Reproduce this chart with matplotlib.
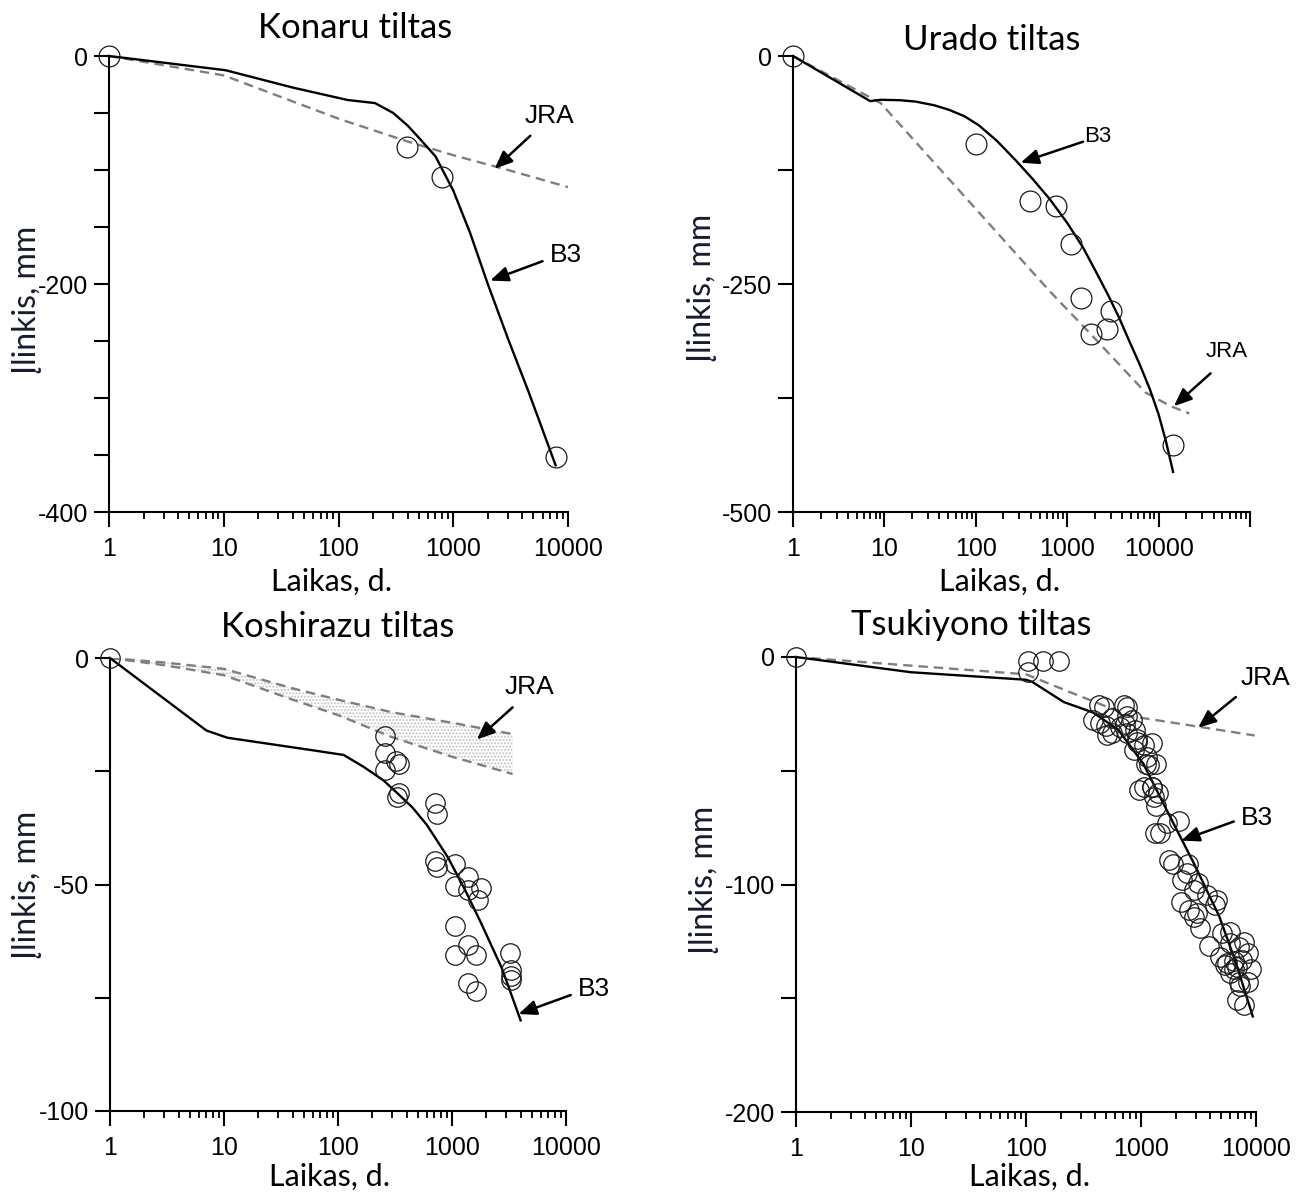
import matplotlib.pyplot as plt

W, H = 1297, 1193
TICK_FONT = ['Liberation Sans', 'DejaVu Sans']
LABEL_FONT = ['Lato', 'DejaVu Sans']

# Konaru tiltas
kon_b3_t = [1, 10.4, 40, 120, 208, 300, 400, 505, 700, 1000, 1400, 2000, 3000, 4550, 7800]
kon_b3_d = [0, -12.5, -27.7, -38.6, -41.3, -50, -61, -72, -88, -118, -155, -200, -248, -295, -359]
kon_jra_t = [1, 10, 100, 400, 1000, 3000, 10000]
kon_jra_d = [0, -17, -55, -75, -87, -100, -115]
kon_obs_t = [1, 392, 800, 7800]
kon_obs_d = [0, -80, -106, -352]

# Urado tiltas
urd_b3_t = [1, 7, 9.1, 15, 22, 35, 51, 75, 108, 170, 277, 420, 645, 1000, 1490, 2100,
            2800, 3700, 4750, 6200, 8000, 10000, 12000, 14400]
urd_b3_d = [0, -49.5, -48, -48.5, -50, -54, -59, -66, -76, -93, -115, -135, -157, -183,
            -210, -238, -262, -287, -312, -338, -365, -393, -422, -456]
urd_jra_t = [1, 9.1, 645, 1660, 7200, 13600, 21700]
urd_jra_d = [0, -51.6, -258, -301, -369, -384, -392]
urd_obs_t = [1, 100, 390, 755, 1110, 1410, 3040, 1810, 2700, 14400]
urd_obs_d = [0, -97, -159, -164, -206, -265, -280, -305, -299, -427]

# Koshirazu tiltas
kos_b3_t = [1, 7, 10.7, 24, 61, 112, 167, 250, 330, 450, 600, 920, 1290, 1790, 2740, 4000]
kos_b3_d = [0, -16, -17.6, -18.9, -20.4, -21.4, -24, -27, -29.8, -33, -36.8, -44, -51,
            -58.4, -68.5, -80]
kos_jra_t = [1, 3, 10, 40, 100, 300, 1000, 3400]
kos_jra_hi = [0, -1, -2.4, -6.7, -9.2, -12, -14.3, -16.8]
kos_jra_lo = [0, -1.6, -3.8, -9.2, -12.6, -17.5, -21.8, -25.6]
kos_obs_t = [1, 260, 258, 325, 340, 258, 340, 330, 705, 735, 705, 745, 1070, 1070,
             1380, 1380, 1790, 1700, 1070, 1070, 1380, 1620, 1380, 1620, 3240, 3300,
             3300, 3300]
kos_obs_d = [0, -17.2, -21, -22.7, -23.3, -24.8, -29.8, -30.7, -31.9, -34.5, -44.8,
             -46.2, -45.4, -50.4, -48.3, -51.3, -50.8, -53.4, -59.2, -65.5, -63.4,
             -65.5, -71.8, -73.5, -65.1, -68.9, -70.2, -71]

# Tsukiyono tiltas
tsu_b3_t = [1, 10, 100, 113, 213, 383, 635, 1050, 1740, 2890, 4790, 6650, 9380]
tsu_b3_d = [0, -6.7, -10, -10.9, -19.8, -24.4, -32, -47, -69, -90.8, -114, -134, -158]
tsu_jra_t = [1, 100, 232, 815, 2870, 9750]
tsu_jra_d = [0, -7.6, -15.1, -26, -30.3, -34.5]
tsu_obs_t = [1, 104, 140, 192, 104,
             384, 473, 493, 560, 751, 751, 721, 889, 927, 1052, 1244, 1352, 1096,
             1244, 1052, 1413, 1352, 1472, 2150, 1893, 2540, 2240, 3135, 2880, 4580,
             4390, 2880, 3270, 3870, 5890, 7900, 8600, 6410, 5420, 6410, 8970, 8600,
             7260, 7900,
             428, 706, 443, 560, 506, 661, 755, 835, 922, 863, 1125, 1163, 955, 1250,
             1290, 1680, 1333, 1740, 2510, 2275, 3750, 2595, 3070, 5070, 5990, 7080,
             4900, 5610, 6850, 7570, 5990, 7080, 6850]
tsu_obs_d = [0, -1.7, -1.7, -1.7, -6.7,
             -27.7, -21.8, -30.3, -33.6, -21.8, -26, -29.4, -31.9, -36.1, -38.7, -37.8,
             -47.1, -47.1, -57.1, -57.1, -59.7, -65.5, -77.3, -72.3, -90.8, -90.8,
             -107.6, -99.2, -102.5, -106.7, -109.2, -114.3, -119.3, -126.9, -121,
             -125.2, -130.3, -133.6, -135.3, -137, -137, -142.9, -144.5, -152.9,
             -21.1, -21.1, -29.1, -27, -34.3, -30.6, -33.5, -27.7, -37.2, -40.9, -43.8,
             -47.5, -58.5, -57, -61.4, -73.1, -77.5, -89.2, -95.1, -98, -104.6, -111.2,
             -112.7, -121.5, -125.8, -127.3, -131.7, -134.6, -136.1, -133.2, -139,
             -142.7, -150.8]


def px_rect(left, top, right, bottom):
    return [left / W, 1 - bottom / H, (right - left) / W, (bottom - top) / H]


def style_axes(ax, xmax, yticks, ylabels):
    ax.set_xscale('log')
    ax.set_xlim(1, xmax)
    ax.set_ylim(yticks[-1], 0)
    for s in ('top', 'right'):
        ax.spines[s].set_visible(False)
    for s in ('left', 'bottom'):
        ax.spines[s].set_linewidth(1.5)
    xt = [10 ** i for i in range(len(str(int(xmax))))]
    ax.set_xticks(xt)
    ax.set_xticklabels([str(v) if v <= 10000 else '' for v in xt])
    ax.set_xticks([m * 10 ** e for e in range(len(xt) - 1) for m in range(2, 10)], minor=True)
    ax.set_yticks(yticks)
    ax.set_yticklabels(ylabels)
    ax.tick_params(which='major', direction='out', length=11, width=1.5)
    ax.tick_params(which='minor', direction='out', length=5, width=1.3)
    ax.tick_params(axis='x', which='major', pad=7)
    ax.tick_params(axis='y', pad=4)
    for lab in ax.get_xticklabels() + ax.get_yticklabels():
        lab.set_family(TICK_FONT)
        lab.set_fontsize(18)


def draw(ax, b3_t, b3_d, obs_t, obs_d, ms=15):
    ax.plot(b3_t, b3_d, color='black', lw=1.7, clip_on=False, zorder=3)
    ax.plot(obs_t, obs_d, 'o', mfc='none', mec='#1a1a1a', mew=0.9, ms=ms,
            clip_on=False, zorder=4)


def pointer(ax, label, txt_xy, start, end, size=19):
    ax.text(*txt_xy, label, ha='center', va='center', fontsize=size,
            family=TICK_FONT)
    ax.annotate('', xy=end, xytext=start,
                arrowprops=dict(arrowstyle='-|>,head_length=0.6,head_width=0.25',
                                color='black', lw=1.8, mutation_scale=18,
                                shrinkA=0, shrinkB=0))


fig = plt.figure(figsize=(W / 100, H / 100), dpi=100)

ax1 = fig.add_axes(px_rect(109, 56, 568, 512))
ax2 = fig.add_axes(px_rect(793, 56, 1250, 512))
ax3 = fig.add_axes(px_rect(110, 658, 566, 1111))
ax4 = fig.add_axes(px_rect(796, 657, 1256, 1112))

dash = dict(color='#7f7f7f', lw=1.7, ls=(0, (4, 2.5)), zorder=2)

# Konaru
ax1.plot(kon_jra_t, kon_jra_d, **dash)
draw(ax1, kon_b3_t, kon_b3_d, kon_obs_t, kon_obs_d)
style_axes(ax1, 10000, list(range(0, -401, -50)),
           ['0', '', '', '', '-200', '', '', '', '-400'])
pointer(ax1, 'JRA', (6900, -53), (4690, -70), (2290, -99))
pointer(ax1, 'B3', (9660, -175), (6000, -180), (2100, -197))

# Urado
ax2.plot(urd_jra_t, urd_jra_d, **dash)
draw(ax2, urd_b3_t, urd_b3_d, urd_obs_t, urd_obs_d)
style_axes(ax2, 100000, [0, -125, -250, -375, -500], ['0', '', '-250', '', '-500'])
pointer(ax2, 'B3', (2150, -88), (1490, -94), (309, -117), size=16)
pointer(ax2, 'JRA', (56000, -324), (37000, -348), (14700, -384), size=16)

# Koshirazu
ax3.fill_between(kos_jra_t, kos_jra_hi, kos_jra_lo, facecolor='none',
                 edgecolor='#c4c4c4', hatch='.....', linewidth=0, zorder=1)
ax3.plot(kos_jra_t, kos_jra_hi, **dash)
ax3.plot(kos_jra_t, kos_jra_lo, **dash)
draw(ax3, kos_b3_t, kos_b3_d, kos_obs_t, kos_obs_d, ms=14)
style_axes(ax3, 10000, [0, -25, -50, -75, -100], ['0', '', '-50', '', '-100'])
pointer(ax3, 'JRA', (4800, -6.3), (3400, -10.9), (1650, -18))
pointer(ax3, 'B3', (17600, -73), (11000, -74.4), (3830, -78.6))

# Tsukiyono
ax4.plot(tsu_jra_t, tsu_jra_d, **dash)
draw(ax4, tsu_b3_t, tsu_b3_d, tsu_obs_t, tsu_obs_d, ms=14)
style_axes(ax4, 10000, [0, -50, -100, -150, -200], ['0', '', '-100', '', '-200'])
pointer(ax4, 'JRA', (12000, -9.2), (6680, -17.6), (3135, -31.1))
pointer(ax4, 'B3', (10170, -70.6), (6410, -72.3), (2240, -80.7))

# titles and axis names
titles = [('Konaru tiltas', 355, 28), ('Urado tiltas', 992, 40),
          ('Koshirazu tiltas', 338, 627), ('Tsukiyono tiltas', 971, 625)]
for t, x, y in titles:
    fig.text(x / W, 1 - y / H, t, ha='center', va='center', fontsize=25,
             family=LABEL_FONT)

for x, y in [(332, 582), (1000, 582), (330, 1177), (1030, 1177)]:
    fig.text(x / W, 1 - y / H, 'Laikas, d.', ha='center', va='center',
             fontsize=22, family=LABEL_FONT)

for x, y in [(27, 300), (702, 288), (27, 885), (704, 880)]:
    fig.text(x / W, 1 - y / H, 'Įlinkis, mm', ha='center', va='center',
             rotation=90, fontsize=23, family=LABEL_FONT, color='#161b30')

fig.savefig('out.png', dpi=100)
